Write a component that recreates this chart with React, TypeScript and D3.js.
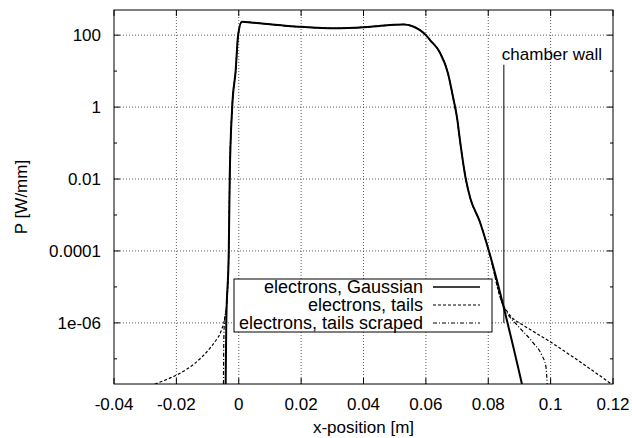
import React from 'react'
import * as d3 from 'd3'

// x-ticks and y-ticks (log scale, labelled every second decade)
const xTicks = [-0.04, -0.02, 0, 0.02, 0.04, 0.06, 0.08, 0.1, 0.12]
const yMajor = [1e-6, 1e-4, 1e-2, 1, 100]
const yMajorLabels = ['1e-06', '0.0001', '0.01', '1', '100']
const yMinor = [1e-7, 1e-5, 1e-3, 0.1, 10]

// main body of the beam profile, shared by all three cases
const coreX = [-0.0032, -0.0029, -0.0021, -0.001, -0.0002, 0.001, 0.005, 0.01, 0.015, 0.02, 0.025, 0.03, 0.035,
  0.04, 0.045, 0.05, 0.053, 0.0555, 0.058, 0.06, 0.0614, 0.0644, 0.0671, 0.0687, 0.07, 0.0709, 0.0728,
  0.0742, 0.0773, 0.0802]
const coreP = [1e-4, 0.01, 1, 10, 100, 235, 220, 200, 182, 170, 160, 155, 157,
  165, 180, 195, 198, 180, 140, 100, 72, 34, 8.6, 1.9, 0.5, 0.125, 0.01,
  0.003, 6.5e-4, 1e-4]

// Gaussian edges
const gaussLeftX = [-0.0042, -0.004]
const gaussLeftP = [2e-8, 1e-6]
const gaussRightX = [0.0908]
const gaussRightP = [2e-8]

// tails
const tailsLeftX = [-0.0269, -0.0066, -0.0055, -0.0046, -0.0038]
const tailsLeftP = [2e-8, 4e-7, 6.5e-7, 1.2e-6, 4e-6]
const tailsRightX = [0.0845, 0.0862, 0.088, 0.09, 0.0998, 0.1195]
const tailsRightP = [3.5e-6, 2e-6, 1.3e-6, 1e-6, 3e-7, 2e-8]

// tails scraped
const scrapedLeftX = [-0.0049, -0.0048, -0.0046, -0.0038]
const scrapedLeftP = [2e-8, 3e-7, 1e-6, 4e-6]
const scrapedRightX = [0.0845, 0.0862, 0.0891, 0.0944, 0.0971, 0.0985, 0.0989]
const scrapedRightP = [3.5e-6, 1.8e-6, 9e-7, 2.8e-7, 1.3e-7, 6e-8, 2e-8]

const wallX = 0.085
const wallTop = 15
const wallBottom = 1e-6

const zip = (xs: number[], ps: number[]) => xs.map((x, i) => [x, ps[i]] as [number, number])

const series = [
  { label: 'electrons, Gaussian', dash: 'none', width: 2,
    pts: [...zip(gaussLeftX, gaussLeftP), ...zip(coreX, coreP), ...zip(gaussRightX, gaussRightP)] },
  { label: 'electrons, tails', dash: '3,2', width: 1.2,
    pts: [...zip(tailsLeftX, tailsLeftP), ...zip(coreX, coreP), ...zip(tailsRightX, tailsRightP)] },
  { label: 'electrons, tails scraped', dash: '4,2,1,2', width: 1.2,
    pts: [...zip(scrapedLeftX, scrapedLeftP), ...zip(coreX, coreP), ...zip(scrapedRightX, scrapedRightP)] },
]

const W = 632
const H = 438
const margin = { top: 10, right: 19, bottom: 54, left: 114 }
const FONT = '"Liberation Sans", Arial, sans-serif'
const FS = 17

export default function App() {
  const x = d3.scaleLinear().domain([-0.04, 0.12]).range([margin.left, W - margin.right])
  const y = d3.scaleLog().domain([2e-8, 500]).range([H - margin.bottom, margin.top])
  const [x0, x1] = x.range()
  const [y0, y1] = y.range()

  const line = d3.line<[number, number]>()
    .x(d => x(d[0]))
    .y(d => y(d[1]))
    .curve(d3.curveMonotoneX)

  // draw order: scraped, tails, then Gaussian on top
  const drawOrder = [series[2], series[1], series[0]]

  const legendLeft = 234
  const legendTop = 279
  const rowH = 18
  const legendW = 258
  const legendH = 53

  return (
    <svg width={W} height={H} style={{ position: 'absolute', left: 0, top: 0, background: '#fff' }}
      fontFamily={FONT} fontSize={FS}>
      <defs>
        <clipPath id="plot">
          <rect x={x0} y={y1} width={x1 - x0} height={y0 - y1} />
        </clipPath>
      </defs>

      {/* grid */}
      {xTicks.slice(1, -1).map(t => (
        <line key={'gx' + t} x1={x(t)} x2={x(t)} y1={y0} y2={y1}
          stroke="#333" strokeWidth={0.8} strokeDasharray="1,2" />
      ))}
      {yMajor.map(t => (
        <line key={'gy' + t} x1={x0} x2={x1} y1={y(t)} y2={y(t)}
          stroke="#333" strokeWidth={0.8} strokeDasharray="1,2" />
      ))}

      {/* ticks (mirrored, inward) */}
      {xTicks.map(t => (
        <g key={'tx' + t}>
          <line x1={x(t)} x2={x(t)} y1={y0} y2={y0 - 6} stroke="#000" />
          <line x1={x(t)} x2={x(t)} y1={y1} y2={y1 + 6} stroke="#000" />
          <text x={x(t)} y={y0 + 26} textAnchor="middle">{String(t)}</text>
        </g>
      ))}
      {yMajor.map((t, i) => (
        <g key={'ty' + t}>
          <line x1={x0} x2={x0 + 6} y1={y(t)} y2={y(t)} stroke="#000" />
          <line x1={x1} x2={x1 - 6} y1={y(t)} y2={y(t)} stroke="#000" />
          <text x={x0 - 13} y={y(t)} dy="0.35em" textAnchor="end">{yMajorLabels[i]}</text>
        </g>
      ))}
      {yMinor.map(t => (
        <g key={'tm' + t}>
          <line x1={x0} x2={x0 + 3} y1={y(t)} y2={y(t)} stroke="#000" />
          <line x1={x1} x2={x1 - 3} y1={y(t)} y2={y(t)} stroke="#000" />
        </g>
      ))}

      {/* curves */}
      <g clipPath="url(#plot)">
        {drawOrder.map(s => (
          <path key={s.label} d={line(s.pts) || ''} fill="none" stroke="#000"
            strokeWidth={s.width} strokeDasharray={s.dash} strokeLinejoin="round" />
        ))}
      </g>

      {/* chamber wall */}
      <line x1={x(wallX)} x2={x(wallX)} y1={y(wallTop)} y2={y(wallBottom)} stroke="#000" strokeWidth={1} />
      <text x={x(wallX) - 2} y={y(wallTop) - 5}>chamber wall</text>

      {/* legend */}
      <rect x={legendLeft} y={legendTop} width={legendW} height={legendH} fill="#fff" stroke="#000" strokeWidth={1} />
      {series.map((s, i) => {
        const cy = legendTop + 8 + rowH * i
        return (
          <g key={'lg' + s.label}>
            <text x={legendLeft + 189} y={cy} dy="0.35em" textAnchor="end" fontSize={18}>{s.label}</text>
            <line x1={legendLeft + 199} x2={legendLeft + 246} y1={cy} y2={cy}
              stroke="#000" strokeWidth={s.width === 2 ? 1.5 : 1.2} strokeDasharray={s.dash} />
          </g>
        )
      })}

      {/* border */}
      <rect x={x0} y={y1} width={x1 - x0} height={y0 - y1} fill="none" stroke="#000" strokeWidth={1} />

      {/* axis titles */}
      <text x={(x0 + x1) / 2} y={H - 5} textAnchor="middle">x-position [m]</text>
      <text transform={`translate(27,${(y0 + y1) / 2}) rotate(-90)`} textAnchor="middle">P [W/mm]</text>
    </svg>
  )
}
